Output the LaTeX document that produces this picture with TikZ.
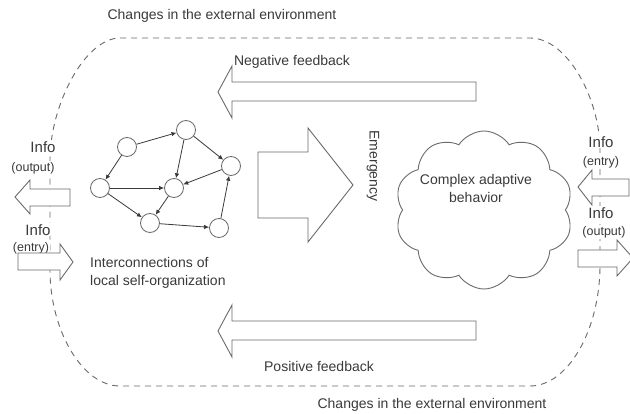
\documentclass[tikz,border=0pt]{standalone}
\usepackage{fontspec}
\setmainfont{Liberation Sans}
\usetikzlibrary{shapes.symbols,arrows.meta}
\definecolor{ln}{HTML}{6A6A6A}
\definecolor{tx}{HTML}{3A3A3A}
\begin{document}
\begin{tikzpicture}[x=1pt,y=-1pt,
  lbl/.style={font=\fontsize{14}{18}\selectfont, text=tx, inner sep=1pt, align=left},
  info/.style={font=\fontsize{15}{17}\selectfont, text=tx, fill=white, inner sep=1pt},
  sub/.style={font=\fontsize{12.5}{15}\selectfont, text=tx, fill=white, inner sep=1pt},
  bigarrow/.style={draw=ln, fill=white, line width=0.9pt, line join=miter},
  vert/.style={circle, draw=ln, fill=white, line width=0.8pt, minimum size=19pt, inner sep=0pt},
  link/.style={draw=tx, line width=0.8pt, -{Latex[length=5pt,width=4.5pt]}},
  env/.style={draw=ln, dash pattern=on 6pt off 5pt, line width=0.9pt}]
\useasboundingbox (0,0) rectangle (630,414);
\fill[white] (0,0) rectangle (630,414);
% environment boundary
\draw[env] (120,38) -- (530,38) .. controls (568,38) and (600,100) .. (600,150)
  -- (600,265) .. controls (600,330) and (568,386) .. (530,386)
  -- (120,386) .. controls (82,386) and (50,330) .. (50,270)
  -- (50,160) .. controls (50,105) and (85,38) .. (120,38);
\node[lbl] (envtop) at (222,16) {Changes in the external environment};
\node[lbl] (envbot) at (432,405) {Changes in the external environment};
% feedback arrows
\draw[bigarrow] (476,82) -- (232,82) -- (232,66) -- (218,92) -- (232,118) -- (232,101) -- (476,101) -- cycle;
\node[lbl] (neg) at (292,62) {Negative feedback};
\draw[bigarrow] (476,321) -- (232,321) -- (232,305) -- (218,331) -- (232,357) -- (232,340) -- (476,340) -- cycle;
\node[lbl] (pos) at (319,366) {Positive feedback};
% emergence arrow
\draw[bigarrow] (258,152) -- (308,152) -- (308,128) -- (353,185) -- (308,242) -- (308,218) -- (258,218) -- cycle;
\node[lbl, rotate=-90] (emg) at (373,166) {Emergency};
% cloud
\node[cloud, draw=ln, fill=white, line width=0.9pt, cloud puffs=10, cloud puff arc=115, aspect=1.15,
  minimum width=178pt, minimum height=158pt] (cl) at (484,210) {};
\node[lbl, align=center] (cltext) at (476,188) {Complex adaptive\\behavior};
% left info
\node[info] (linfo1) at (43,147) {Info};
\node[sub] (lout) at (33,168) {(output)};
\draw[bigarrow] (70,189) -- (30,189) -- (30,180) -- (15,197) -- (30,214) -- (30,206) -- (70,206) -- cycle;
\node[info] (linfo2) at (38,230) {Info};
\node[sub] (lent) at (31,248) {(entry)};
\draw[bigarrow] (18,253) -- (60,253) -- (60,244) -- (73,262) -- (60,280) -- (60,270) -- (18,270) -- cycle;
% right info
\node[info] (rinfo1) at (601,142) {Info};
\node[sub] (rent) at (601,162) {(entry)};
\draw[bigarrow] (629,179) -- (592,179) -- (592,170) -- (578,187) -- (592,205) -- (592,196) -- (629,196) -- cycle;
\node[info] (rinfo2) at (601,213) {Info};
\node[sub] (rout) at (604,232) {(output)};
\draw[bigarrow] (578,250) -- (617,250) -- (617,240) -- (633,258) -- (617,276) -- (617,267) -- (578,267) -- cycle;
% network
\node[vert] (a) at (127,147) {};
\node[vert] (b) at (186,130) {};
\node[vert] (c) at (231,166) {};
\node[vert] (d) at (100,188) {};
\node[vert] (e) at (174,188) {};
\node[vert] (f) at (150,223) {};
\node[vert] (g) at (219,228) {};
\draw[link] (a) -- (b);
\draw[link] (a) -- (d);
\draw[link] (b) -- (e);
\draw[link] (b) -- (c);
\draw[link] (c) -- (e);
\draw[link] (d) -- (e);
\draw[link] (d) -- (f);
\draw[link] (e) -- (f);
\draw[link] (f) -- (g);
\draw[link] (g) -- (c);
\node[lbl, anchor=north west] (inter) at (89,256) {Interconnections of\\local self-organization};
\end{tikzpicture}
\end{document}
